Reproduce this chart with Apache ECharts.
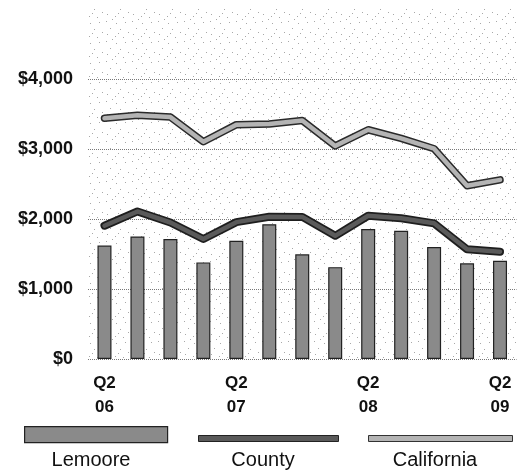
<!DOCTYPE html>
<html>
<head>
<meta charset="utf-8">
<script src="https://cdn.jsdelivr.net/npm/echarts@6/dist/echarts.min.js"></script>
<style>html,body{margin:0;padding:0;background:#fff}#c{width:530px;height:472px}</style>
</head>
<body>
<div id="c"></div>
<script>
const quarters = ['Q2 06','Q3 06','Q4 06','Q1 07','Q2 07','Q3 07','Q4 07','Q1 08','Q2 08','Q3 08','Q4 08','Q1 09','Q2 09'];
const lemoore = [1620,1750,1715,1380,1690,1925,1495,1312,1857,1833,1600,1367,1404];
const county = [1904,2108,1950,1714,1955,2033,2030,1760,2047,2010,1938,1567,1533];
const california = [3440,3481,3456,3103,3348,3357,3407,3044,3275,3151,3004,2475,2559];
const seriesNames = ['Lemoore','County','California'];

const FONT = '"Liberation Sans Narrow","Arial Narrow","Liberation Sans",Arial,sans-serif';

// sparse stipple pattern for plot background
const pc = document.createElement('canvas');
pc.width = 26; pc.height = 20;
const pctx = pc.getContext('2d');
pctx.fillStyle = '#fff'; pctx.fillRect(0,0,26,20);
pctx.fillStyle = '#a8a8a8';
[[2,1],[12,3],[21,2],[6,8],[16,9],[24,12],[3,14],[11,16],[19,17],[8,19],[14,13]].forEach(p=>pctx.fillRect(p[0],p[1],1,1));

const chart = echarts.init(document.getElementById('c'));
const bandColors = {Lemoore:'#8a8a8a', County:'#5a5a5a', California:'#b4b4b4'};

chart.setOption({
  animation: false,
  grid: {left: 88, right: 13.5, top: 9, bottom: 113, show: true, borderWidth: 0,
         backgroundColor: {image: pc, repeat: 'repeat'}},
  xAxis: {
    type: 'category', data: quarters,
    axisLine: {show: false}, axisTick: {show: false},
    axisLabel: {interval: 3, margin: 12, color: '#111', fontFamily: FONT, fontWeight: 'bold',
                fontSize: 17, lineHeight: 24, formatter: v => v.replace(' ', '\n')}
  },
  yAxis: {
    type: 'value', min: 0, max: 5000, interval: 1000,
    axisLine: {show: false}, axisTick: {show: false},
    axisLabel: {margin: 15, color: '#111', fontFamily: FONT, fontWeight: 'bold', fontSize: 18,
                formatter: v => v >= 5000 ? '' : '$' + v.toLocaleString('en-US')},
    splitLine: {lineStyle: {type: 'dotted', width: 1,
                color: ['#777','#777','#777','#777','#777','rgba(0,0,0,0)']}}
  },
  legend: [
    {data: [{name: 'Lemoore', icon: 'rect'}], left: 19, top: 421, itemWidth: 143, itemHeight: 16,
     formatter: () => '', itemStyle: {color: bandColors.Lemoore, borderColor: '#222', borderWidth: 1.2}, selectedMode: false},
    {data: [{name: 'County', icon: 'rect'}], left: 193, top: 430, itemWidth: 140, itemHeight: 6,
     formatter: () => '', itemStyle: {color: bandColors.County, borderColor: '#222', borderWidth: 1}, selectedMode: false},
    {data: [{name: 'California', icon: 'rect'}], left: 363, top: 430, itemWidth: 144, itemHeight: 6,
     formatter: () => '', itemStyle: {color: bandColors.California, borderColor: '#333', borderWidth: 1}, selectedMode: false}
  ],
  graphic: seriesNames.map((n, i) => ({
      type: 'text', x: [91, 263, 435][i], y: 460,
      style: {text: n, font: '20px ' + FONT, fill: '#111', align: 'center', verticalAlign: 'middle'}
  })),
  series: [
    {name: 'Lemoore', type: 'bar', data: lemoore, barWidth: 14,
     itemStyle: {color: bandColors.Lemoore, borderColor: '#222', borderWidth: 1.2}},
    {name: 'County-outline', type: 'line', data: county, symbol: 'none', silent: true,
     lineStyle: {color: '#1e1e1e', width: 8, cap: 'round', join: 'round'}, z: 3},
    {name: 'County', type: 'line', data: county, symbol: 'none',
     lineStyle: {color: bandColors.County, width: 4.5, cap: 'round', join: 'round'}, z: 4},
    {name: 'California-outline', type: 'line', data: california, symbol: 'none', silent: true,
     lineStyle: {color: '#2a2a2a', width: 7.5, cap: 'round', join: 'round'}, z: 3},
    {name: 'California', type: 'line', data: california, symbol: 'none',
     lineStyle: {color: bandColors.California, width: 4.5, cap: 'round', join: 'round'}, z: 4}
  ]
});
</script>
</body>
</html>
